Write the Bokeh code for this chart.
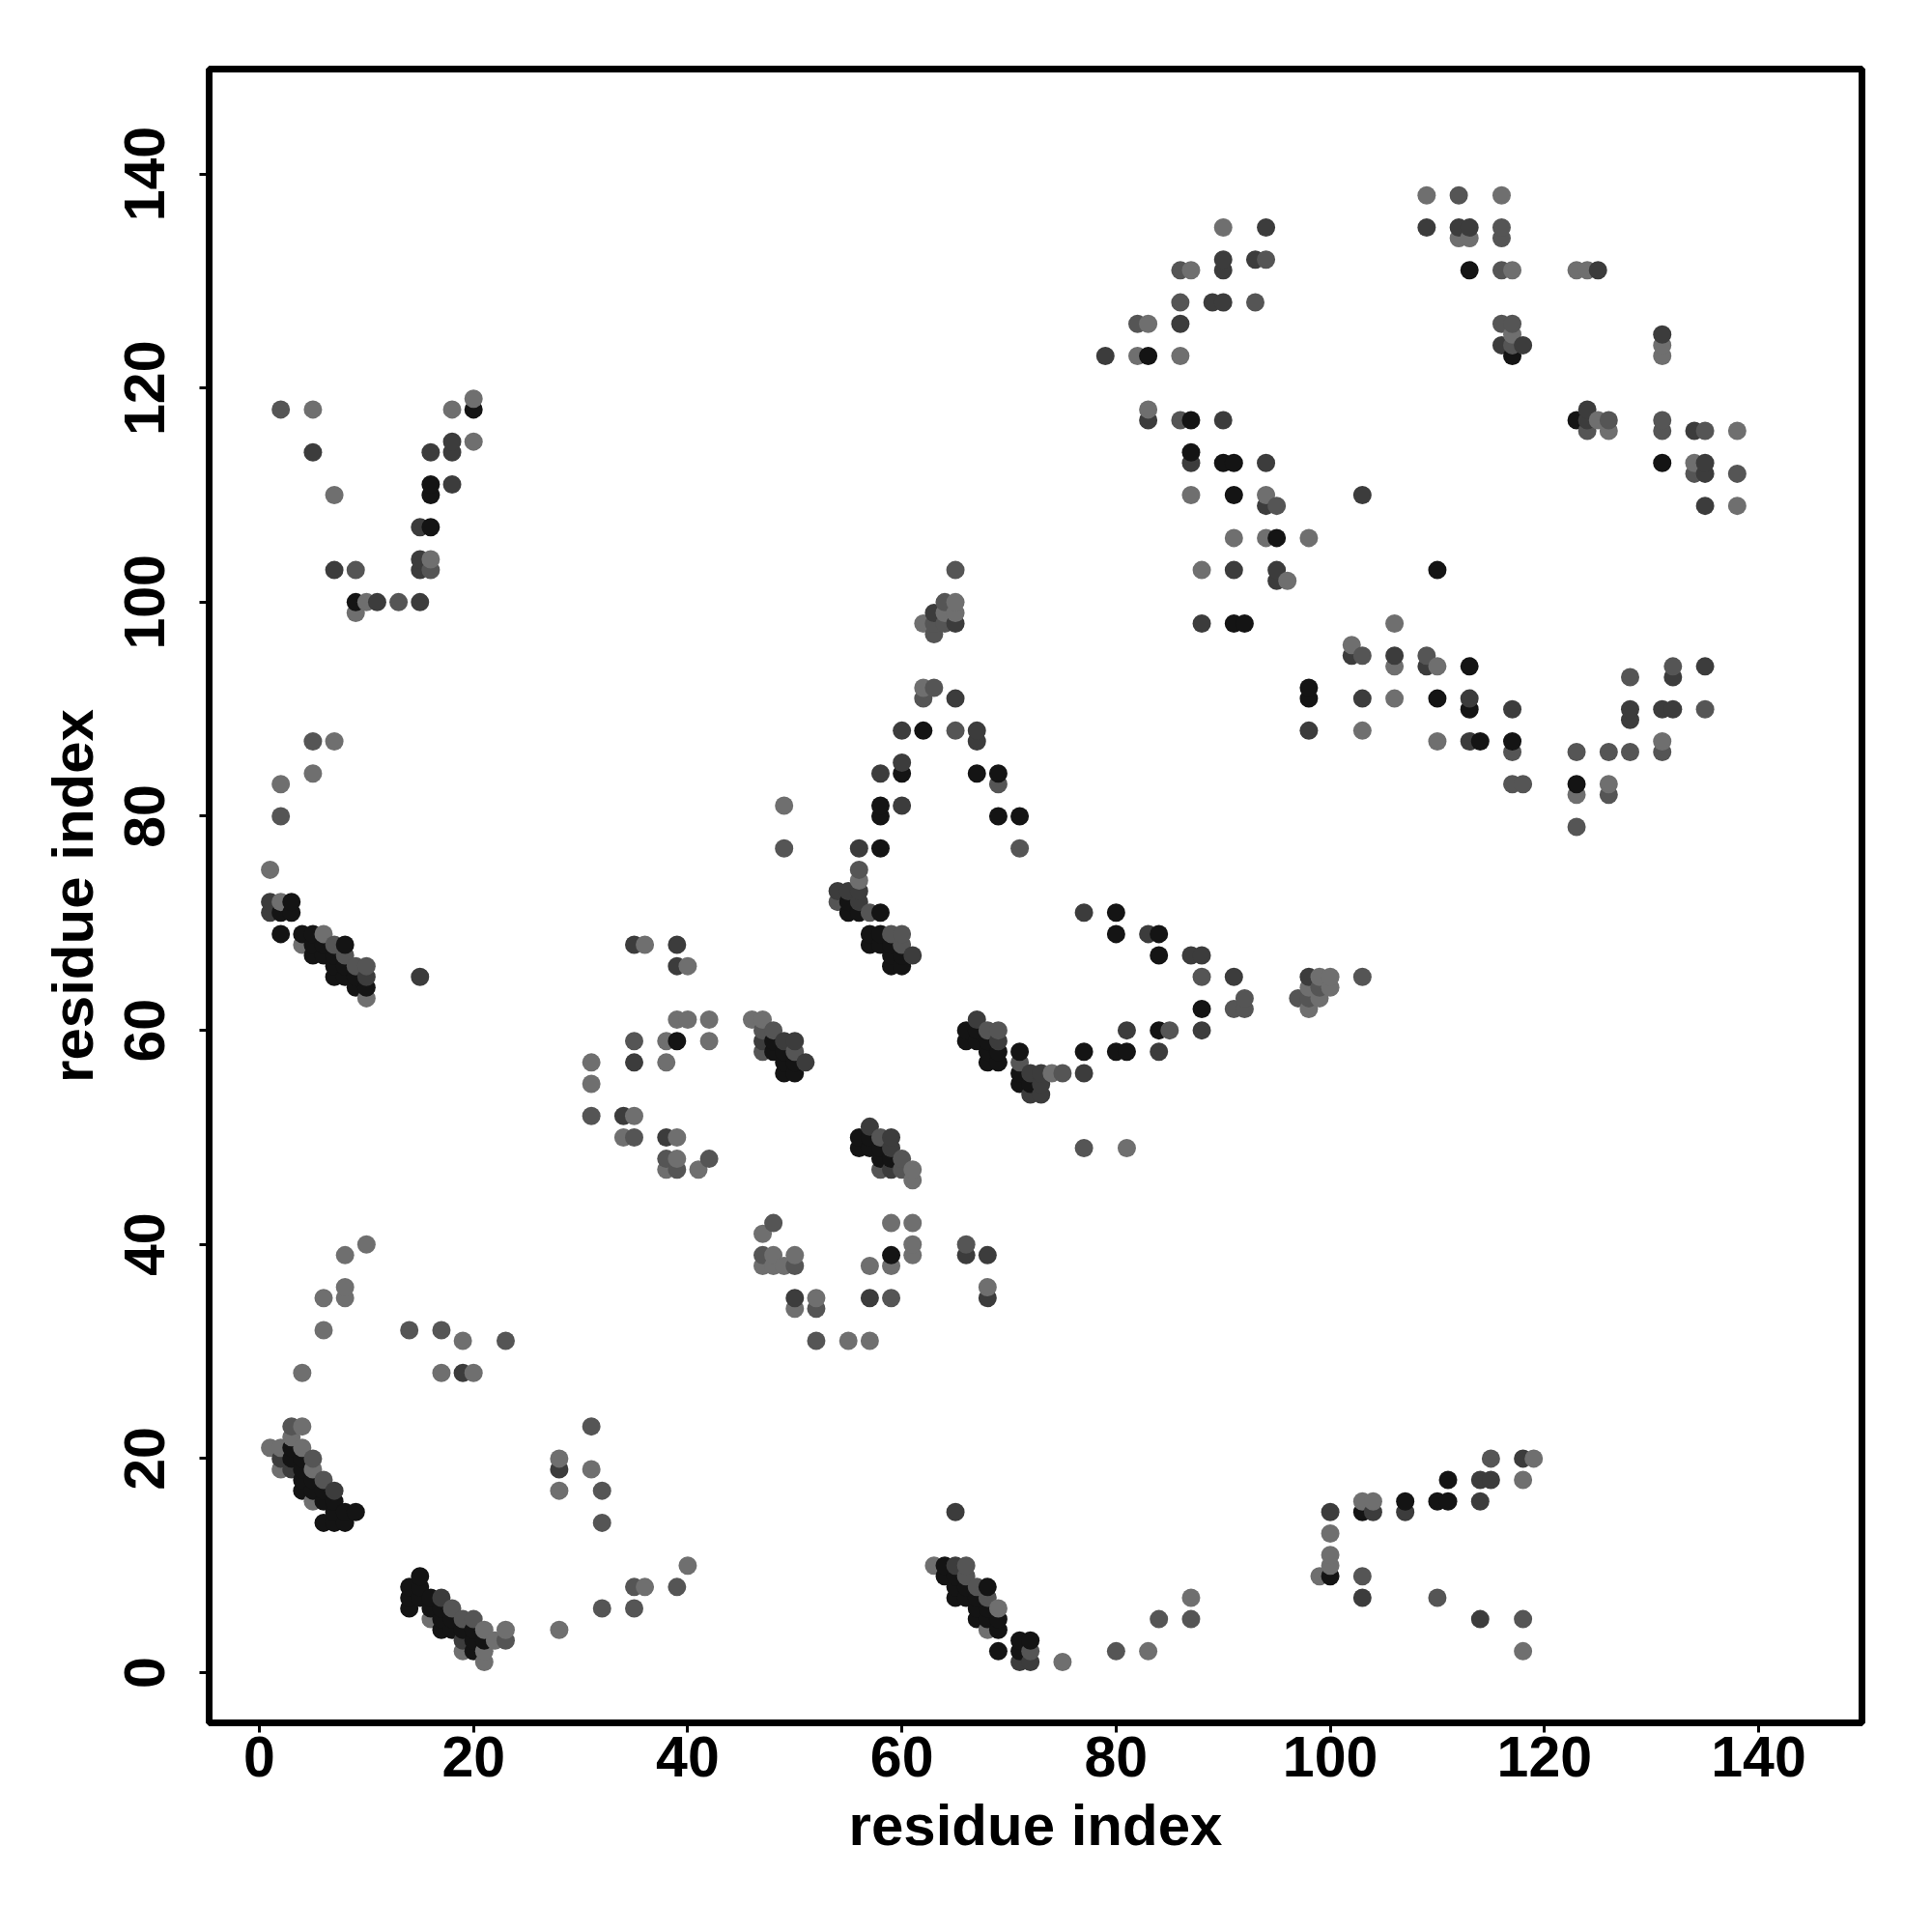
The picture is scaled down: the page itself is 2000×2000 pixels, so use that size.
from bokeh.plotting import figure
from bokeh.models import ColumnDataSource, Range1d, FixedTicker
from bokeh.embed import file_html
from bokeh.resources import INLINE

# contacts (residue i, residue j) grouped by shade
light = [(3,22),(1,21),(2,21),(4,21),(4,23),(5,19),(2,19),(5,16),(16,5),(21,4),(23,4),(22,3),(19,2),(21,2),(21,1),
 (1,75),(2,72),(4,68),(6,69),(10,63),(46,61),(47,61),(61,47),(61,46),(56,74),(74,56),(68,4),(69,6),(75,1),(63,10),
 (4,28),(6,35),(8,35),(8,36),(8,39),(10,40),(6,32),(17,28),(19,31),(20,28),(28,20),(28,17),(31,19),(28,4),(36,8),(40,10),
 (31,57),(31,55),(35,52),(34,50),(36,68),(40,66),(39,61),(40,61),(42,61),(38,59),(42,59),(38,57),(39,50),(39,48),(38,47),(41,47),
 (47,41),(48,39),(47,38),(48,38),(49,38),(50,39),(50,34),(52,35),(55,31),(57,31),(57,38),(59,38),(59,42),(61,42),(61,40),(61,39),(68,36),
 (49,81),(62,92),(62,98),(64,99),(65,100),(65,99),(81,49),(99,65),(100,65),(98,64),(100,64),(99,63),(98,62),
 (100,13),(100,11),(100,10),(99,9),(103,16),(104,16),(119,20),(118,18),(118,2),(83,2),(87,7),
 (5,118),(7,110),(10,100),(9,99),(16,104),(18,118),(20,119),(20,115),(7,87),(5,84),(2,83),
 (83,126),(82,123),(86,123),(87,131),(90,135),(83,118),(87,110),(94,110),(91,106),(94,106),(98,106),(88,103),(96,102),
 (109,138),(112,134),(113,134),(116,138),(117,131),(117,125),(123,131),(124,131),(131,124),(131,123),(125,117),(126,116),(134,113),(138,116),(138,109),
 (102,96),(103,88),(106,98),(106,94),(106,91),(110,94),(110,87),(123,82),(126,83),(131,87)]
mid = [(3,23),(5,20),(6,18),(19,5),(20,5),(23,3),(18,6),(8,67),(7,68),(10,66),(9,66),(47,60),(48,60),(47,58),(50,58),
 (58,50),(60,48),(58,47),(60,47),(56,75),(54,72),(57,71),(59,69),(60,69),(60,68),(66,10),(67,8),(66,9),(68,7),(72,2),(68,60),(69,60),(71,57),(75,56),
 (14,32),(17,32),(23,31),(31,23),(32,17),(32,14),(32,6),(35,6),(35,8),(39,8),
 (31,52),(35,59),(38,48),(42,48),(39,47),(35,50),(48,42),(47,39),(50,38),(52,31),(59,35),(66,40),(52,34),
 (49,77),(65,88),(69,83),(71,77),(63,92),(62,91),(63,98),(63,97),(64,98),(64,100),(65,103),
 (88,65),(91,62),(92,62),(92,63),(85,60),(77,49),(97,63),(103,65),(99,64),(98,63),
 (115,20),(103,9),(110,7),(118,5),(80,2),(84,5),(87,5),
 (2,118),(9,103),(13,100),(16,103),(5,87),(2,80),
 (82,126),(86,128),(86,131),(93,128),(94,132),(86,117),(95,109),
 (112,138),(116,135),(116,134),(116,131),(116,126),(117,126),(117,124),(124,116),(126,117),(131,117),(131,116),(135,116),(134,112),(138,112),
 (103,95),(109,95),(117,86),(117,83),(118,83),(123,86),(123,79),(126,86),(126,82),(128,93),(128,86),(131,86),(132,94),(135,90)]
dark = [(2,20),(3,19),(7,17),(19,3),(17,7),(1,72),(1,71),(10,65),(15,65),(47,59),(49,59),(50,59),(51,57),(57,51),(59,50),(59,49),(59,47),
 (54,73),(55,73),(56,73),(56,72),(61,67),(56,77),(65,10),(72,1),(71,1),(67,61),(69,59),(72,56),(73,56),(73,55),(72,54),(73,54),(77,56),
 (19,28),(28,19),(34,52),(35,57),(35,68),(39,68),(39,66),(38,50),(50,35),(57,35),(66,39),(68,39),(68,35),
 (58,84),(60,85),(60,81),(60,88),(67,88),(67,87),(65,91),(63,99),(65,98),
 (77,71),(83,69),(87,67),(88,67),(91,65),(88,60),(81,60),(84,58),(98,65),
 (65,15),(100,15),(104,15),(107,15),(114,18),(115,18),(114,16),(118,20),(103,7),(114,5),
 (5,114),(7,103),(11,100),(15,100),(15,107),(15,104),(15,103),(16,114),(18,111),(18,115),(18,114),
 (79,123),(86,126),(89,128),(90,128),(90,131),(90,132),(93,132),(94,135),(83,117),(90,117),(87,113),(94,113),(94,109),(91,103),(95,103),(95,102),(88,98),(103,110),
 (109,135),(112,135),(113,135),(116,124),(118,124),(125,131),(131,125),(124,118),(124,117),(134,116),(135,113),(135,112),(135,109),
 (98,88),(102,95),(103,91),(106,95),(109,94),(113,91),(113,87),(117,90),(128,90),(128,89),(131,90),(132,90),(132,93),(135,94)]
black = [(3,21),(3,20),(4,20),(4,19),(4,18),(5,18),(4,17),(5,17),(6,17),(6,16),(7,16),(7,15),(8,15),(9,15),(6,14),(7,14),(8,14),
 (15,9),(14,8),(15,8),(14,7),(15,7),(16,7),(14,6),(16,6),(17,6),(17,5),(18,5),(17,4),(18,4),(19,4),(20,4),(20,3),(21,3),(20,2),
 (3,72),(2,71),(3,71),(2,69),(4,69),(5,69),(5,68),(6,68),(8,68),(5,67),(6,67),(7,67),(7,66),(8,66),(7,65),(8,65),(9,65),(9,64),(10,64),
 (48,59),(48,58),(49,58),(49,57),(50,57),(49,56),(50,56),(56,50),(57,50),(56,49),(57,49),(58,49),(58,48),(59,48),
 (55,72),(55,71),(56,71),(58,71),(57,69),(58,69),(57,68),(58,68),(59,68),(59,67),(60,67),(59,66),(60,66),
 (64,10),(64,9),(65,9),(65,8),(66,8),(65,7),(66,7),(67,7),(68,8),(67,6),(68,6),(67,5),(68,5),(69,5),(69,4),(69,2),(71,3),(72,3),(71,2),
 (66,60),(67,60),(66,59),(67,59),(68,59),(68,58),(69,58),(68,57),(69,57),(71,58),(71,56),(71,55),(72,55),(77,58),
 (39,59),(59,39),(58,77),(58,81),(58,80),(60,84),(62,88),(67,84),(69,84),(69,80),(71,80),
 (80,71),(80,69),(84,69),(84,67),(88,62),(84,60),(80,58),(81,58),
 (100,9),(103,15),(107,16),(110,16),(111,16),(111,18),
 (9,100),(16,107),(16,111),(16,110),(20,118),
 (83,123),(87,117),(87,114),(90,113),(91,113),(91,110),(95,106),(91,98),(92,98),
 (113,131),(117,123),(123,117),(131,113),
 (98,92),(98,91),(110,91),(110,103),(113,94),(113,90),(114,87),(117,87),(123,83)]
shades = {"#6f6f6f": light, "#555555": mid, "#3c3c3c": dark, "#141414": black}

x_ticks = [0, 20, 40, 60, 80, 100, 120, 140]
y_ticks = [0, 20, 40, 60, 80, 100, 120, 140]
axis_title = "residue index"

seen = {}
for colour, pts in shades.items():
    for pt in pts:
        seen.setdefault(pt, colour)
order = sorted(seen)
src = ColumnDataSource(dict(x=[a for a, b in order], y=[b for a, b in order], c=[seen[k] for k in order]))

p = figure(frame_width=1711, frame_height=1712, output_backend="svg", toolbar_location=None,
           x_range=Range1d(-4.69, 149.65), y_range=Range1d(-4.69, 149.8),
           min_border_left=216, min_border_top=71, min_border_right=50, min_border_bottom=180)
p.scatter("x", "y", source=src, size=19, color="c", line_color=None)

p.grid.visible = False
p.outline_line_color = "black"
p.outline_line_width = 7
for ax, ticks in ((p.xaxis[0], x_ticks), (p.yaxis[0], y_ticks)):
    ax.ticker = FixedTicker(ticks=ticks)
    ax.axis_label = axis_title
    ax.axis_line_color = None
    ax.major_tick_line_color = "black"
    ax.major_tick_line_width = 3
    ax.major_tick_in = 0
    ax.major_tick_out = 10
    ax.minor_tick_line_color = None
    ax.major_label_text_font = "Liberation Sans"
    ax.major_label_text_font_style = "bold"
    ax.major_label_text_font_size = "59px"
    ax.major_label_text_color = "black"
    ax.axis_label_text_font = "Liberation Sans"
    ax.axis_label_text_font_style = "bold"
    ax.axis_label_text_font_size = "60px"
    ax.axis_label_text_color = "black"
p.xaxis[0].major_label_standoff = 4
p.xaxis[0].axis_label_standoff = 14
p.yaxis[0].major_label_standoff = 36
p.yaxis[0].major_label_orientation = "vertical"
p.yaxis[0].axis_label_standoff = 18

open("out.html", "w").write(file_html(p, INLINE))
